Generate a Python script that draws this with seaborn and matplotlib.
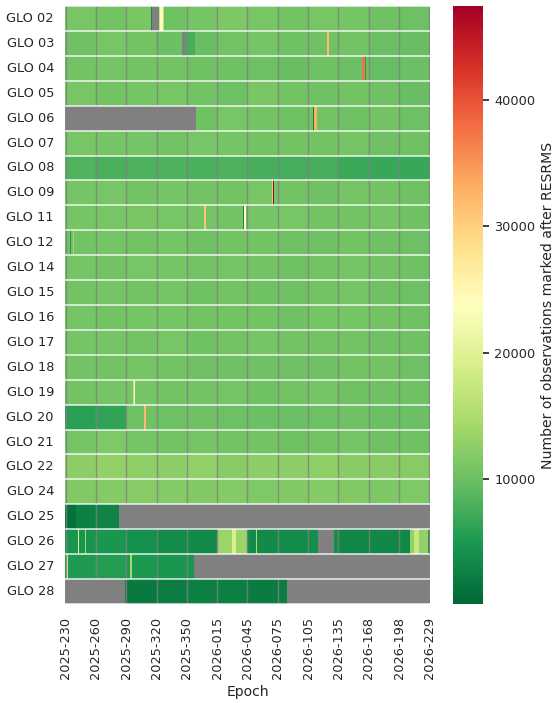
import numpy as np
import pandas as pd
import matplotlib
matplotlib.use("Agg")
import matplotlib.pyplot as plt
import seaborn as sns

nan = np.nan

satellites = ["GLO 02", "GLO 03", "GLO 04", "GLO 05", "GLO 06", "GLO 07", "GLO 08",
              "GLO 09", "GLO 11", "GLO 12", "GLO 14", "GLO 15", "GLO 16", "GLO 17",
              "GLO 18", "GLO 19", "GLO 20", "GLO 21", "GLO 22", "GLO 24", "GLO 25",
              "GLO 26", "GLO 27", "GLO 28"]

# epochs (year-doy), days without any solution are skipped
missing_days = ["2026-150", "2026-151", "2026-152", "2026-210"]
epochs = [f"2025-{d:03d}" for d in range(230, 366)] + [f"2026-{d:03d}" for d in range(1, 230)]
epochs = [e for e in epochs if e not in missing_days]

# roughly monthly levels (12 blocks of 30 epochs, last one 31)
levels = {
    "GLO 02": [11000, 10600, 11200, 10400, 10800, 11300, 10900, 10500, 11000, 10800, 10400, 10200],
    "GLO 03": [10400, 10900, 10500, 10000, 9900, 10600, 10800, 10400, 10300, 10600, 10100, 9900],
    "GLO 04": [10500, 10800, 10500, 10600, 10300, 10400, 10200, 9900, 10300, 10000, 9700, 10000],
    "GLO 05": [10900, 10500, 10800, 10900, 10600, 10200, 11100, 10600, 10300, 10500, 10300, 9900],
    "GLO 06": [nan, nan, nan, nan, 10400, 10900, 10600, 10400, 10500, 10300, 10600, 10200],
    "GLO 07": [10900, 10700, 10800, 10600, 10900, 10700, 10500, 10600, 10500, 10700, 10400, 10300],
    "GLO 08": [8400, 8000, 8100, 8200, 7900, 8100, 7800, 7600, 7800, 7100, 6900, 6800],
    "GLO 09": [10700, 10900, 10600, 10800, 10500, 10600, 10900, 10500, 10400, 10700, 10500, 10300],
    "GLO 11": [10800, 11000, 11200, 10900, 10700, 10600, 10800, 10900, 10600, 10500, 10700, 10400],
    "GLO 12": [10600, 10700, 10500, 10800, 10400, 10600, 10500, 10300, 10400, 10600, 10300, 10200],
    "GLO 14": [10800, 10600, 10900, 10700, 10500, 10700, 10600, 10400, 10600, 10800, 10500, 10300],
    "GLO 15": [10500, 10700, 10600, 10800, 10400, 10500, 10300, 10400, 10500, 10700, 10300, 10200],
    "GLO 16": [10700, 10600, 10800, 10700, 10500, 10600, 10600, 10400, 10700, 10800, 10600, 10300],
    "GLO 17": [10800, 10700, 10600, 10900, 10400, 10500, 10700, 10500, 10500, 10600, 10400, 10300],
    "GLO 18": [10600, 10500, 10700, 10600, 10400, 10400, 10300, 10300, 10400, 10500, 10500, 10200],
    "GLO 19": [10600, 10800, 10700, 10500, 10600, 10700, 10400, 10500, 10700, 10300, 10400, 10300],
    "GLO 20": [5900, 6300, 10300, 10200, 10300, 10200, 10100, 10000, 10200, 10300, 10100, 10000],
    "GLO 21": [10700, 11500, 10800, 10600, 10700, 10500, 10600, 10300, 10500, 10700, 10400, 10300],
    "GLO 22": [12400, 12900, 12600, 12400, 12700, 12200, 12500, 12400, 12600, 12300, 12200, 12000],
    "GLO 24": [11700, 11900, 12000, 11800, 11600, 11900, 11500, 11700, 11800, 11600, 11400, 11500],
    "GLO 25": [2600, 3000, nan, nan, nan, nan, nan, nan, nan, nan, nan, nan],
    "GLO 26": [4600, 4800, 4200, 3800, 3600, 13500, 3500, 3700, 4000, 3100, 3300, 13000],
    "GLO 27": [5300, 5500, 5000, 4900, 4700, nan, nan, nan, nan, nan, nan, nan],
    "GLO 28": [nan, 2300, 1900, 2200, 2500, 2400, 2100, 2300, nan, nan, nan, nan],
}

# single days / short spans that stand out (satellite, first epoch idx, last epoch idx, value)
events = [
    ("GLO 02", 85, 85, 3500), ("GLO 02", 86, 92, nan), ("GLO 02", 93, 93, 17000),
    ("GLO 02", 94, 96, 24500), ("GLO 02", 97, 97, 16000),
    ("GLO 03", 116, 118, nan), ("GLO 03", 119, 128, 7800), ("GLO 03", 259, 260, 32000),
    ("GLO 04", 294, 296, 37500), ("GLO 04", 297, 297, 5500),
    ("GLO 06", 120, 129, nan), ("GLO 06", 245, 245, 3000), ("GLO 06", 246, 248, 33000),
    ("GLO 09", 205, 205, 16000), ("GLO 09", 206, 206, 47440),
    ("GLO 11", 137, 138, 31000), ("GLO 11", 176, 176, 3500), ("GLO 11", 177, 178, 24500),
    ("GLO 12", 5, 5, 5000), ("GLO 12", 8, 8, 14000),
    ("GLO 19", 67, 67, 17000), ("GLO 19", 68, 68, 23500),
    ("GLO 20", 78, 79, 32000),
    ("GLO 25", 0, 10, 1200), ("GLO 25", 53, 59, nan),
    ("GLO 26", 13, 13, 20000), ("GLO 26", 20, 20, 14500), ("GLO 26", 165, 168, 19000),
    ("GLO 26", 189, 189, 15000), ("GLO 26", 250, 265, nan), ("GLO 26", 330, 340, 3400),
    ("GLO 26", 345, 349, 17500), ("GLO 26", 359, 360, 5000),
    ("GLO 27", 1, 2, 19000), ("GLO 27", 64, 65, 14500), ("GLO 27", 128, 149, nan),
    ("GLO 28", 30, 58, nan), ("GLO 28", 220, 239, nan),
]

cbar_min, cbar_max = 130, 47440
cbar_label = "Number of observations marked after RESRMS"

# build the table
block_edges = list(range(0, 331, 30)) + [len(epochs)]
table = pd.DataFrame(nan, index=satellites, columns=epochs)
for sat, vals in levels.items():
    for k, v in enumerate(vals):
        table.iloc[satellites.index(sat), block_edges[k]:block_edges[k + 1]] = v
for sat, first, last, v in events:
    table.iloc[satellites.index(sat), first:last + 1] = v

sns.set_theme(style="darkgrid", font_scale=0.84, rc={"ytick.major.size": 4.5})
plt.rcParams["font.family"] = ["DejaVu Sans"]

fig = plt.figure(figsize=(5.6, 7.03), dpi=100)
ax = fig.add_axes([65 / 560, 1 - 604 / 703, 365 / 560, 598 / 703])
cax = fig.add_axes([453 / 560, 1 - 604 / 703, 30 / 560, 598 / 703])
ax.set_facecolor("#808080")

sns.heatmap(table, ax=ax, cbar_ax=cax, cmap="RdYlGn_r", vmin=cbar_min, vmax=cbar_max,
            xticklabels=30, yticklabels=satellites, cbar_kws={"label": cbar_label})
ax.grid(False)

ax.vlines(ax.get_xticks(), 0, len(satellites), colors="#808080", lw=1, alpha=0.8)
ax.hlines(range(len(satellites) + 1), 0, len(epochs), colors="white", lw=1.2, alpha=0.8)

plt.setp(ax.get_xticklabels(), rotation=90)
plt.setp(ax.get_yticklabels(), rotation=0)
ax.set_xlabel("Epoch")
ax.set_ylabel("")

fig.savefig("out.png", dpi=100)
